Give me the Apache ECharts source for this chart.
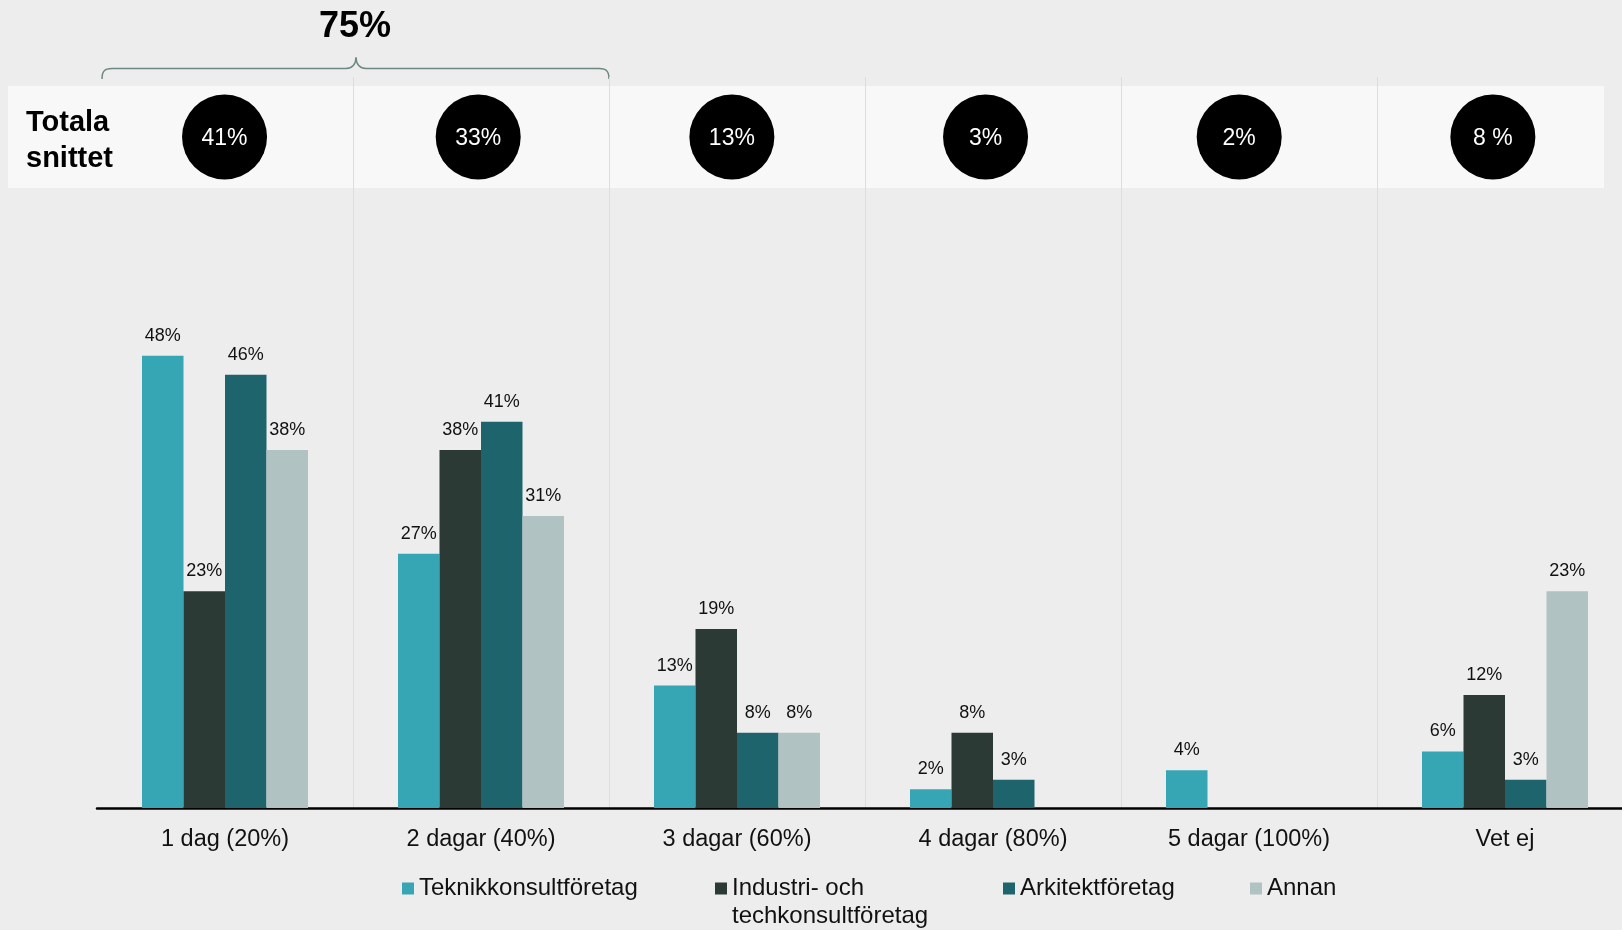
<!DOCTYPE html>
<html>
<head>
<meta charset="utf-8">
<script src="https://cdn.jsdelivr.net/npm/echarts@6/dist/echarts.min.js"></script>
<style>
  html, body { margin: 0; padding: 0; background: #ededed; }
  #chart { width: 1622px; height: 930px; }
</style>
</head>
<body>
<div id="chart"></div>
<script>
const categories = ['1 dag (20%)', '2 dagar (40%)', '3 dagar (60%)', '4 dagar (80%)', '5 dagar (100%)', 'Vet ej'];
const seriesNames = ['Teknikkonsultföretag', 'Industri- och\ntechkonsultföretag', 'Arkitektföretag', 'Annan'];
const teknik = [48, 27, 13, 2, 4, 6];
const industri = [23, 38, 19, 8, null, 12];
const arkitekt = [46, 41, 8, 3, null, 3];
const annan = [38, 31, 8, null, null, 23];
const totalAvg = [41, 33, 13, 3, 2, 8];
const totalLabels = ['41%', '33%', '13%', '3%', '2%', '8 %'];
const bracketLabel = '75%';

const colors = ['#36a6b4', '#2b3a35', '#1d646d', '#b1c2c2'];
const font = '"Liberation Sans", Arial, sans-serif';
const braceColor = '#6d8782';

const chart = echarts.init(document.getElementById('chart'));

function barSeries(name, data, color) {
  return {
    name: name,
    type: 'bar',
    xAxisIndex: 0,
    yAxisIndex: 0,
    data: data,
    barWidth: 41.5,
    barGap: '0%',
    itemStyle: { color: color },
    label: {
      show: true,
      position: 'top',
      distance: 11,
      color: '#111',
      fontSize: 18,
      fontFamily: font,
      formatter: (p) => p.value + '%',
    },
  };
}

// one legend per item so the markers sit where the reference puts them
const legendLefts = [402, 715, 1003, 1250];
const legends = seriesNames.map((name, i) => {
  const multi = name.indexOf('\n') >= 0;
  return {
    left: legendLefts[i],
    // two-line name gets an empty first line so its first row lines up with the marker
    top: multi ? 847.25 : 874.75,
    padding: 0,
    icon: 'rect',
    itemWidth: 12,
    itemHeight: 12,
    itemGap: 5,
    data: [name],
    formatter: multi ? (n) => '\n' + n : null,
    textStyle: {
      color: '#111',
      fontSize: 24,
      fontFamily: font,
      lineHeight: 27.5,
    },
  };
});

function braceCurve(x1, y1, c1x, c1y, c2x, c2y, x2, y2) {
  return {
    type: 'bezierCurve',
    shape: { x1: x1, y1: y1, cpx1: c1x, cpy1: c1y, cpx2: c2x, cpy2: c2y, x2: x2, y2: y2 },
    style: { fill: null, stroke: braceColor, lineWidth: 1.5 },
  };
}
function braceLine(x1, x2, y) {
  return {
    type: 'line',
    shape: { x1: x1, y1: y, x2: x2, y2: y },
    style: { stroke: braceColor, lineWidth: 1.5 },
  };
}

const option = {
  backgroundColor: '#ededed',
  animation: false,
  legend: legends,
  grid: [
    { left: 97, width: 1536, top: 77, bottom: 122, outerBoundsMode: 'none' },
    { left: 97.7, width: 1522, top: 86, height: 102, outerBoundsMode: 'none' },
  ],
  xAxis: [
    {
      type: 'category',
      gridIndex: 0,
      data: categories,
      axisLine: { lineStyle: { color: '#000', width: 2.5 } },
      axisTick: { show: false },
      axisLabel: { color: '#111', fontSize: 23.5, fontFamily: font, margin: 20 },
      splitLine: {
        show: true,
        interval: (i) => i > 0,
        lineStyle: { color: '#dddddd', width: 1 },
      },
    },
    {
      type: 'category',
      gridIndex: 1,
      data: categories,
      show: false,
    },
  ],
  yAxis: [
    { type: 'value', gridIndex: 0, min: 0, max: 77.6, show: false },
    { type: 'value', gridIndex: 1, min: -1, max: 1, show: false },
  ],
  series: [
    barSeries(seriesNames[0], teknik, colors[0]),
    barSeries(seriesNames[1], industri, colors[1]),
    barSeries(seriesNames[2], arkitekt, colors[2]),
    barSeries(seriesNames[3], annan, colors[3]),
    {
      type: 'scatter',
      xAxisIndex: 1,
      yAxisIndex: 1,
      symbolSize: 85,
      itemStyle: { color: '#000', opacity: 1 },
      data: totalAvg.map((v, i) => ({ value: [i, 0], raw: v })),
      label: {
        show: true,
        position: 'inside',
        offset: [0, 2],
        color: '#fff',
        fontSize: 23,
        fontFamily: font,
        formatter: (p) => totalLabels[p.dataIndex],
      },
      z: 5,
    },
  ],
  graphic: [
    {
      type: 'rect',
      z: -10,
      shape: { x: 8, y: 86, width: 1596, height: 102 },
      style: { fill: '#f8f8f8' },
    },
    {
      type: 'text',
      z: 10,
      style: {
        x: 26, y: 141,
        text: 'Totala\nsnittet',
        fill: '#000',
        fontSize: 29,
        fontWeight: 'bold',
        fontFamily: font,
        lineHeight: 36,
        verticalAlign: 'middle',
      },
    },
    {
      type: 'text',
      style: {
        x: 355, y: 27,
        text: bracketLabel,
        fill: '#000',
        fontSize: 36,
        fontWeight: 'bold',
        fontFamily: font,
        align: 'center',
        verticalAlign: 'middle',
      },
    },
    braceCurve(102, 79, 102, 72, 104, 68.5, 112, 68.5),
    braceLine(112, 346, 68.5),
    braceCurve(346, 68.5, 352, 68.5, 356, 64, 356, 57.5),
    braceCurve(356, 57.5, 356, 64, 360, 68.5, 366, 68.5),
    braceLine(366, 599, 68.5),
    braceCurve(599, 68.5, 607, 68.5, 609, 72, 609, 79),
  ],
};

chart.setOption(option);
</script>
</body>
</html>
